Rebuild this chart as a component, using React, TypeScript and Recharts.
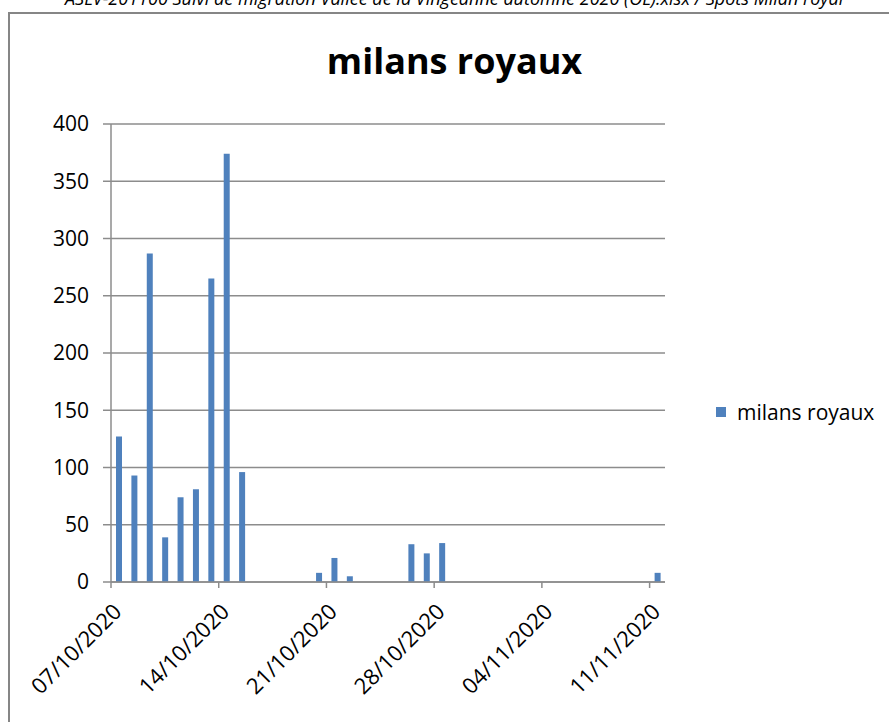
import React from "react";
import { BarChart, Bar, XAxis, YAxis, CartesianGrid } from "recharts";

const startDay = "2020-10-07";
const dayCount = 36;
const obsDays = [
  "07/10/2020", "08/10/2020", "09/10/2020", "10/10/2020", "11/10/2020",
  "12/10/2020", "13/10/2020", "14/10/2020", "15/10/2020",
  "20/10/2020", "21/10/2020", "22/10/2020",
  "26/10/2020", "27/10/2020", "28/10/2020",
  "11/11/2020",
];
const milansRoyaux = [127, 93, 287, 39, 74, 81, 265, 374, 96, 8, 21, 5, 33, 25, 34, 8];
const yTicks = [0, 50, 100, 150, 200, 250, 300, 350, 400];

const fmt = (d: Date) =>
  `${String(d.getDate()).padStart(2, "0")}/${String(d.getMonth() + 1).padStart(2, "0")}/${d.getFullYear()}`;

// one category per day, like Excel's date axis
const data = Array.from({ length: dayCount }, (_, i) => {
  const d = new Date(startDay + "T12:00:00");
  d.setDate(d.getDate() + i);
  const label = fmt(d);
  const k = obsDays.indexOf(label);
  return { date: label, "milans royaux": k >= 0 ? milansRoyaux[k] : null };
});

const FONT = "'Open Sans', sans-serif";
const BLUE = "#4F81BD";
const GRID = "#8c8c8c";

const DateTick = (props: any) => {
  const { x, y, payload } = props;
  const bx = x - (payload.offset ?? 0);
  const ax = bx + 12;
  const ay = y + 31;
  return (
    <g>
      <line x1={bx} y1={y} x2={bx} y2={y + 6} stroke={GRID} strokeWidth={1.5} />
      <text
        x={ax}
        y={ay}
        textAnchor="end"
        fontSize={22}
        fontFamily={FONT}
        fill="#000"
        transform={`rotate(-45 ${ax} ${ay})`}
      >
        {payload.value}
      </text>
    </g>
  );
};

export default function App() {
  return (
    <div
      style={{
        position: "absolute",
        left: 0,
        top: 0,
        width: 889,
        height: 722,
        overflow: "hidden",
        background: "#fff",
      }}
    >
      <div
        style={{
          position: "absolute",
          left: 65,
          top: -14,
          whiteSpace: "nowrap",
          fontFamily: FONT,
          fontStyle: "italic",
          fontSize: 18,
          color: "#000",
        }}
      >
        ASLV-201100 Suivi de migration Vallée de la Vingeanne automne 2020 (OL).xlsx / Spots Milan royal
      </div>
      <div
        style={{
          position: "absolute",
          left: 8,
          top: 12,
          width: 920,
          height: 760,
          border: "2px solid #868686",
        }}
      />
      <div
        style={{
          position: "absolute",
          left: 0,
          top: 36,
          width: 889,
          textAlign: "center",
          fontFamily: FONT,
          fontWeight: 700,
          fontSize: 36,
          color: "#000",
        }}
      >
        <span style={{ position: "relative", left: 10 }}>milans royaux</span>
      </div>
      <div
        style={{
          position: "absolute",
          left: 716,
          top: 398,
          display: "flex",
          alignItems: "center",
          fontFamily: FONT,
          fontSize: 21,
          color: "#000",
          whiteSpace: "nowrap",
        }}
      >
        <span style={{ width: 10, height: 10, background: BLUE, marginRight: 11 }} />
        milans royaux
      </div>
      <div style={{ position: "absolute", left: 0, top: 0 }}>
        <BarChart
          width={889}
          height={722}
          data={data}
          margin={{ top: 124, right: 224, bottom: 0, left: 0 }}
          barCategoryGap={0}
        >
          <CartesianGrid vertical={false} stroke={GRID} strokeWidth={1.5} />
          <XAxis
            dataKey="date"
            interval={6}
            height={140}
            tick={<DateTick />}
            tickLine={false}
            tickSize={0}
            tickMargin={0}
            axisLine={{ stroke: GRID, strokeWidth: 1.5 }}
          />
          <YAxis
            width={111}
            domain={[0, 400]}
            ticks={yTicks}
            tickSize={8}
            tickMargin={14}
            tickLine={{ stroke: GRID, strokeWidth: 1.5 }}
            axisLine={{ stroke: GRID, strokeWidth: 1.5 }}
            tick={{ fontSize: 21, fontFamily: FONT, fill: "#000" }}
          />
          <Bar dataKey="milans royaux" fill={BLUE} barSize={6} isAnimationActive={false} />
        </BarChart>
      </div>
    </div>
  );
}
